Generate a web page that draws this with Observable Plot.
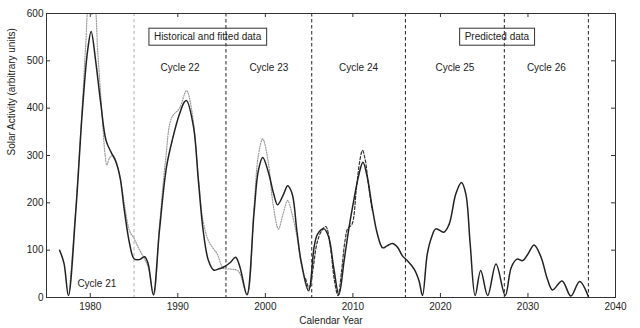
<!DOCTYPE html>
<html><head><meta charset="utf-8">
<script src="https://cdn.jsdelivr.net/npm/d3@7"></script>
<script src="https://cdn.jsdelivr.net/npm/@observablehq/plot@0.6"></script>
<style>body{margin:0;background:#fff;}</style>
</head><body><div id="chart"></div>
<script>
// Fitted / predicted model (solid)
const fittedYears = [1976.5,1977.0,1977.5,1978.35,1979.1,1979.7,1980.1,1980.6,1981.2,1981.8,1982.4,1982.9,1983.4,1983.9,1984.5,1985.0,1985.6,1986.2,1986.6,1987.2,1987.9,1988.7,1989.4,1990.2,1990.75,1991.0,1991.8,1992.35,1992.9,1993.5,1994.1,1994.6,1995.2,1996.0,1996.6,1997.1,1997.9,1998.7,1999.2,1999.7,2000.4,2000.95,2001.4,2002.1,2002.55,2003.06,2003.6,2004.1,2004.95,2005.6,2006.0,2006.7,2007.25,2007.8,2008.4,2009.0,2009.5,2010.1,2010.7,2011.15,2011.65,2012.2,2012.8,2013.4,2013.9,2014.5,2015.1,2015.66,2016.2,2017.0,2017.56,2017.95,2018.5,2019.0,2019.47,2020.4,2021.0,2021.76,2022.4,2022.9,2023.4,2023.97,2024.6,2025.4,2026.35,2027.4,2028.1,2028.75,2029.4,2030.0,2030.7,2031.5,2032.2,2032.8,2033.9,2034.9,2035.9,2036.9];
const fittedValues = [100,72,4,183,395,522,562,502,410,332,306,288,254,183,113,82,80,86,72,6,141,275,335,388,413,416,360,247,141,78,58,60,64,74,85,64,6,177,268,296,261,219,196,219,236,219,141,75,14,110,135,145,127,64,6,78,141,205,261,286,254,191,134,105,109,114,106,88,78,60,35,4,92,128,145,138,155,219,243,219,113,4,57,4,71,4,64,81,78,92,111,85,40,16,35,3,34,2];
// Historical observations (dotted grey)
const observedYears = [1977.6,1978.35,1979.1,1979.5,1979.8,1980.15,1980.5,1980.85,1981.3,1981.7,1981.9,1982.2,1982.6,1983.0,1983.5,1984.0,1984.5,1985.0,1985.5,1986.0,1986.6,1987.25,1987.9,1988.6,1989.3,1990.2,1991.0,1991.6,1992.3,1992.9,1993.5,1994.0,1994.5,1995.2,1996.0,1996.9,1997.9,1998.7,1999.2,1999.7,2000.3,2000.9,2001.5,2002.0,2002.55,2003.0,2003.6,2004.1,2004.9,2005.4];
const observedValues = [8,190,410,540,615,598,615,520,400,300,280,295,300,285,245,185,140,125,105,88,65,5,150,290,380,400,437,395,265,160,120,105,92,62,60,56,6,190,300,335,290,195,145,175,205,180,130,70,15,45];
// Recent observations, cycle 24 (dashed)
const recentYears = [2004.6,2005.0,2005.4,2005.9,2006.4,2006.9,2007.4,2007.9,2008.3,2008.7,2009.1,2009.4,2009.9,2010.4,2010.8,2011.1,2011.4,2011.8,2012.2];
const recentValues = [40,20,55,115,140,150,110,35,4,55,120,145,155,230,290,311,292,235,185];

const cycleBoundaries = [1976.5,1985.0,1995.5,2005.3,2016.0,2027.3,2036.9];
const cycleNames = ["Cycle 21","Cycle 22","Cycle 23","Cycle 24","Cycle 25","Cycle 26"];
const boxLabels = ["Historical and fitted data","Predicted data"];
const boxYears = [1993.4,2026.45];
const xTicks = [1980,1990,2000,2010,2020,2030,2040];
const yTicks = [0,100,200,300,400,500,600];
const xLabel = "Calendar Year";
const yLabel = "Solar Activity (arbitrary units)";

const fitted = fittedYears.map((x,i)=>({x, y: fittedValues[i]}));
const observed = observedYears.map((x,i)=>({x, y: observedValues[i]}));
const recent = recentYears.map((x,i)=>({x, y: recentValues[i]}));
const cycles = cycleNames.map((name,i)=>({name, x:(cycleBoundaries[i]+cycleBoundaries[i+1])/2}));
const boxes = boxLabels.map((t,i)=>({t, x: boxYears[i]}));

const W=640,H=328,mL=46,mR=25,mT=13,mB=31;
const fW=W-mL-mR, fH=H-mT-mB;
const ink="#222";

const chart = Plot.plot({
  width:W, height:H,
  marginLeft:mL, marginRight:mR, marginTop:mT, marginBottom:mB,
  style:{fontFamily:"'Liberation Sans', Arial, sans-serif", fontSize:"10px", color:ink, background:"#fff"},
  x:{domain:[1975,2040], label:null},
  y:{domain:[0,600], label:null},
  marks:[
    Plot.axisX(xTicks,{tickSize:0, tickPadding:5, tickFormat:d=>String(d), fill:ink, label:null}),
    Plot.axisY(yTicks,{tickSize:0, tickPadding:3, fill:ink, label:null}),
    // inward ticks
    Plot.ruleX(xTicks,{x:d=>d, insetTop:fH-4, stroke:"#333"}),
    Plot.ruleX(xTicks,{x:d=>d, insetBottom:fH-4, stroke:"#333"}),
    Plot.ruleY(yTicks,{y:d=>d, insetRight:fW-4, stroke:"#333"}),
    Plot.ruleY(yTicks,{y:d=>d, insetLeft:fW-4, stroke:"#333"}),
    // cycle dividers
    Plot.ruleX(cycleBoundaries.slice(1,2),{x:d=>d, stroke:"#999", strokeDasharray:"3,3", strokeWidth:0.8}),
    Plot.ruleX(cycleBoundaries.slice(2),{x:d=>d, stroke:"#222", strokeDasharray:"3.5,2.5", strokeWidth:1}),
    // series
    Plot.line(observed,{x:"x", y:"y", curve:"catmull-rom", stroke:"#9a9a9a", strokeWidth:1.2, strokeDasharray:"1,1.5", clip:true}),
    Plot.line(recent,{x:"x", y:"y", curve:"catmull-rom", stroke:"#333", strokeWidth:1.2, strokeDasharray:"3,2", clip:true}),
    Plot.line(fitted,{x:"x", y:"y", curve:"catmull-rom", stroke:"#222", strokeWidth:1.5, clip:true}),
    // cycle labels
    Plot.text(cycles.slice(1),{x:"x", text:"name", frameAnchor:"top", dy:54, lineAnchor:"middle", fill:ink}),
    Plot.text(cycles.slice(0,1),{x:"x", text:"name", frameAnchor:"bottom", dy:-14, lineAnchor:"middle", fill:ink}),
    Plot.text(boxes,{x:"x", text:"t", frameAnchor:"top", dy:23.5, lineAnchor:"middle", fill:ink, className:"boxlabel"}),
    // axis titles
    Plot.text([xLabel],{frameAnchor:"bottom", dy:23, lineAnchor:"middle", fill:ink}),
    Plot.text([yLabel],{frameAnchor:"left", dx:-35, rotate:-90, lineAnchor:"middle", fill:ink}),
    Plot.frame({stroke:"#333", strokeWidth:1})
  ]
});
document.getElementById("chart").append(chart);

// draw boxes around the region labels
const svg = chart.tagName.toLowerCase()==="svg" ? chart : chart.querySelector("svg");
const sr = svg.getBoundingClientRect();
svg.querySelectorAll(".boxlabel text").forEach(t=>{
  const r = t.getBoundingClientRect();
  const rect = document.createElementNS("http://www.w3.org/2000/svg","rect");
  const padX=5, h=17;
  rect.setAttribute("x", r.left - sr.left - padX);
  rect.setAttribute("y", (r.top + r.bottom)/2 - sr.top - h/2);
  rect.setAttribute("width", r.width + 2*padX);
  rect.setAttribute("height", h);
  rect.setAttribute("fill","none");
  rect.setAttribute("stroke","#333");
  rect.setAttribute("stroke-width","1");
  svg.appendChild(rect);
});
</script>
</body></html>
